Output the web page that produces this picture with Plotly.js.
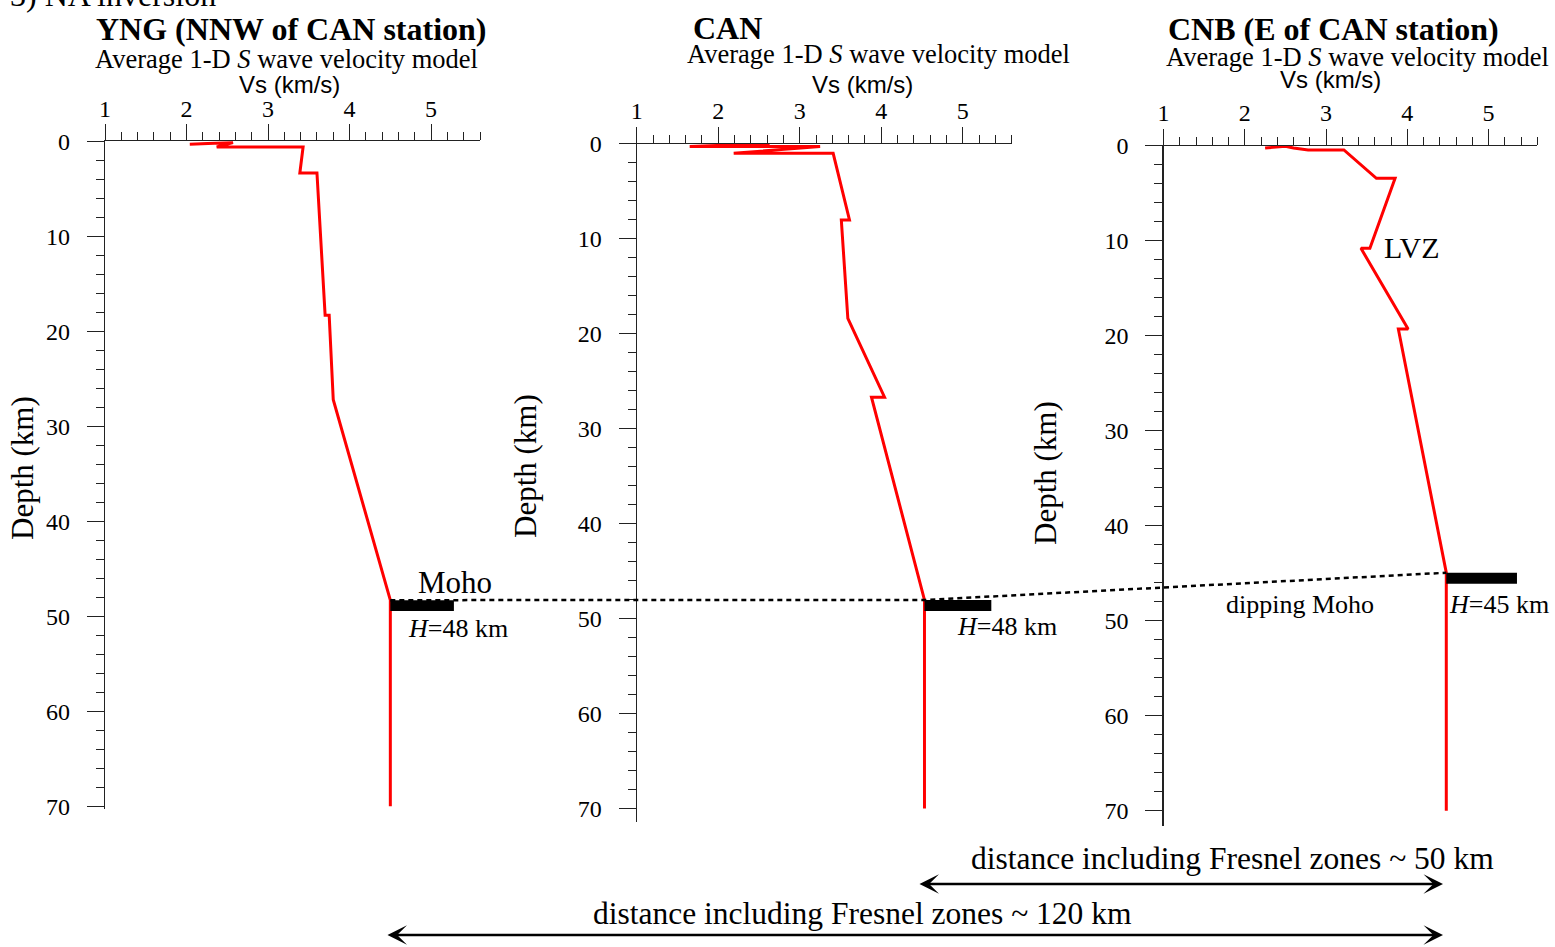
<!DOCTYPE html>
<html><head><meta charset="utf-8">
<script src="https://cdn.plot.ly/plotly-3.0.1.min.js"></script>
<style>html,body{margin:0;padding:0;background:#fff}#chart{width:1555px;height:947px}</style>
</head><body><div id="chart"></div>
<script>
// ---------------- data ----------------
const panelTitles = ['YNG (NNW of CAN station)', 'CAN', 'CNB (E of CAN station)'];
const xTickVals = [1, 2, 3, 4, 5];
const yTickVals = [0, 10, 20, 30, 40, 50, 60, 70];

// YNG profile
const yngVs    = [2.04, 2.57, 2.37, 3.43, 3.39, 3.60, 3.70, 3.75, 3.80, 4.50, 4.50];
const yngDepth = [0.30, 0.12, 0.60, 0.60, 3.34, 3.34, 18.3, 18.3, 27.2, 48.3, 70.0];
// CAN profile
const canVs    = [2.63, 1.65, 3.25, 2.19, 3.41, 3.61, 3.51, 3.59, 4.04, 3.88, 4.53, 4.53];
const canDepth = [0.00, 0.32, 0.32, 1.03, 1.03, 8.05, 8.05, 18.4, 26.7, 26.7, 48.05, 70.0];
// CNB profile
const cnbVs    = [2.25, 2.50, 2.60, 2.78, 3.22, 3.62, 3.85, 3.54, 3.43, 4.01, 3.89, 4.48, 4.48];
const cnbDepth = [0.25, 0.05, 0.25, 0.45, 0.45, 3.43, 3.43, 10.8, 10.8, 19.3, 19.3, 44.95, 70.0];

// Moho bars (per panel)
const mohoVsStart = [4.50, 4.53, 4.48];
const mohoVsEnd   = [5.28, 5.35, 5.35];
const mohoTop     = [48.3, 48.05, 44.95];
const mohoBottom  = [49.45, 49.2, 46.1];
const mohoLabels  = ['<i>H</i>=48 km', '<i>H</i>=48 km', '<i>H</i>=45 km'];

// ---------------- layout helpers ----------------
const W = 1555, H = 947;
const PX = v => v / W;
const PY = v => 1 - v / H;
const SERIF = 'Liberation Serif, Times New Roman, serif';
const SANS = 'Liberation Sans, Arial, sans-serif';

// pixel geometry of the three panels
const panels = [
  {x0: 105,   x1: 480,    top: 141.3, pxPerKm: 9.5, dmax: 70.3},
  {x0: 636.7, x1: 1011.7, top: 143.5, pxPerKm: 9.5, dmax: 71.4},
  {x0: 1163.5,x1: 1537.3, top: 145.7, pxPerKm: 9.5, dmax: 71.6}
];
const XR = [1, 5.6];

function xAxis(p, anchor) {
  return {
    domain: [PX(p.x0), PX(p.x1)], range: XR, side: 'top', anchor: anchor,
    tickmode: 'array', tickvals: xTickVals,
    ticks: 'outside', ticklen: 16, tickwidth: 1, tickcolor: '#222',
    showline: true, linecolor: '#222', linewidth: 1,
    showgrid: false, zeroline: false, fixedrange: true,
    minor: {tickmode: 'linear', tick0: 1, dtick: 0.2, ticks: 'outside', ticklen: 8, tickwidth: 1, tickcolor: '#222', showgrid: false},
    tickfont: {family: SERIF, size: 24, color: '#000'},
    ticklabelstandoff: -2
  };
}
function yAxis(p, anchor) {
  const bottom = p.top + p.dmax * p.pxPerKm;
  return {
    domain: [PY(bottom), PY(p.top)], range: [p.dmax, 0], anchor: anchor,
    tickmode: 'array', tickvals: yTickVals,
    ticks: 'outside', ticklen: 17, tickwidth: 1, tickcolor: '#222',
    showline: true, linecolor: '#222', linewidth: 1.2,
    showgrid: false, zeroline: false, fixedrange: true,
    minor: {tickmode: 'linear', tick0: 0, dtick: 2, ticks: 'outside', ticklen: 8, tickwidth: 1, tickcolor: '#222', showgrid: false},
    tickfont: {family: SERIF, size: 24, color: '#000'},
    ticklabelstandoff: 12
  };
}

const layout = {
  width: W, height: H, margin: {l: 0, r: 0, t: 0, b: 0},
  paper_bgcolor: '#fff', plot_bgcolor: 'rgba(0,0,0,0)', showlegend: false,
  xaxis: xAxis(panels[0], 'y'),  yaxis: yAxis(panels[0], 'x'),
  xaxis2: xAxis(panels[1], 'y2'), yaxis2: yAxis(panels[1], 'x2'),
  xaxis3: xAxis(panels[2], 'y3'), yaxis3: yAxis(panels[2], 'x3'),
  shapes: [], annotations: []
};

// data -> paper conversion using the axis geometry
function toPaper(i, v, d) {
  const p = panels[i];
  const xd = [PX(p.x0), PX(p.x1)];
  const bottom = p.top + p.dmax * p.pxPerKm;
  const yd = [PY(bottom), PY(p.top)];
  return [xd[0] + (v - XR[0]) / (XR[1] - XR[0]) * (xd[1] - xd[0]),
          yd[0] + (p.dmax - d) / p.dmax * (yd[1] - yd[0])];
}

// traces
const profiles = [[yngVs, yngDepth], [canVs, canDepth], [cnbVs, cnbDepth]];
const sfx = ['', '2', '3'];
const traces = profiles.map((pr, i) => ({
  type: 'scatter', mode: 'lines', x: pr[0], y: pr[1],
  xaxis: 'x' + sfx[i], yaxis: 'y' + sfx[i],
  line: {color: '#ff0000', width: 3}, hoverinfo: 'skip', cliponaxis: false
}));

// Moho bars
for (let i = 0; i < 3; i++) {
  layout.shapes.push({type: 'rect', xref: 'x' + sfx[i], yref: 'y' + sfx[i],
    x0: mohoVsStart[i], x1: mohoVsEnd[i], y0: mohoTop[i], y1: mohoBottom[i],
    fillcolor: '#000', line: {width: 0}, layer: 'above'});
}
// dashed Moho connection
const pts = [0, 1, 2].map(i => toPaper(i, mohoVsStart[i], mohoTop[i]));
layout.shapes.push({type: 'path', xref: 'paper', yref: 'paper',
  path: 'M' + pts.map(p => p[0] + ',' + p[1]).join(' L'),
  line: {color: '#000', width: 2.5, dash: '5px,4px'}, layer: 'above'});

// text annotations
function txt(text, x, y, size, opts) {
  layout.annotations.push(Object.assign({
    text: text, x: PX(x), y: PY(y), xref: 'paper', yref: 'paper',
    xanchor: 'center', yanchor: 'middle', showarrow: false,
    font: {family: SERIF, size: size, color: '#000'}
  }, opts || {}));
}
txt('3) NA inversion', 8, 15, 32, {xanchor: 'left', yanchor: 'bottom'});
const titlePos = [[291, 29], [727, 28], [1333, 29]];
const subPos = [[286, 59], [878, 54], [1357, 57]];
const vsPos = [[289, 84], [862, 84], [1330, 80]];
const depthPos = [[22, 468], [525, 466], [1045, 473]];
for (let i = 0; i < 3; i++) {
  txt('<b>' + panelTitles[i] + '</b>', titlePos[i][0], titlePos[i][1], 32);
  txt('Average 1-D <i>S</i> wave velocity model', subPos[i][0], subPos[i][1], 26.5);
  txt('Vs (km/s)', vsPos[i][0], vsPos[i][1], 24, {font: {family: SANS, size: 24, color: '#000'}});
  txt('Depth (km)', depthPos[i][0], depthPos[i][1], 31, {textangle: -90});
}
txt('Moho', 455, 582, 31);
txt(mohoLabels[0], 458, 628, 26);
txt(mohoLabels[1], 1007, 626, 26);
txt('dipping Moho', 1300, 604, 26);
txt(mohoLabels[2], 1499, 604, 26);
txt('LVZ', 1412, 248, 30);
txt('distance including Fresnel zones ~ 50 km', 1232, 858, 31.5);
txt('distance including Fresnel zones ~ 120 km', 862, 913, 31.5);

// double-headed arrows
function arrow(xa, xb, y) {
  layout.annotations.push({
    x: PX(xb), y: PY(y), xref: 'paper', yref: 'paper',
    ax: xa - xb, ay: 0, axref: 'pixel', ayref: 'pixel',
    text: '', showarrow: true, arrowside: 'end+start',
    arrowhead: 3, startarrowhead: 3, arrowsize: 1.3, startarrowsize: 1.3,
    arrowwidth: 2.5, arrowcolor: '#000', standoff: 0, startstandoff: 0
  });
}
arrow(918, 1443, 884);
arrow(386, 1443, 935);

Plotly.newPlot('chart', traces, layout, {displayModeBar: false, staticPlot: true});
</script>
</body></html>
